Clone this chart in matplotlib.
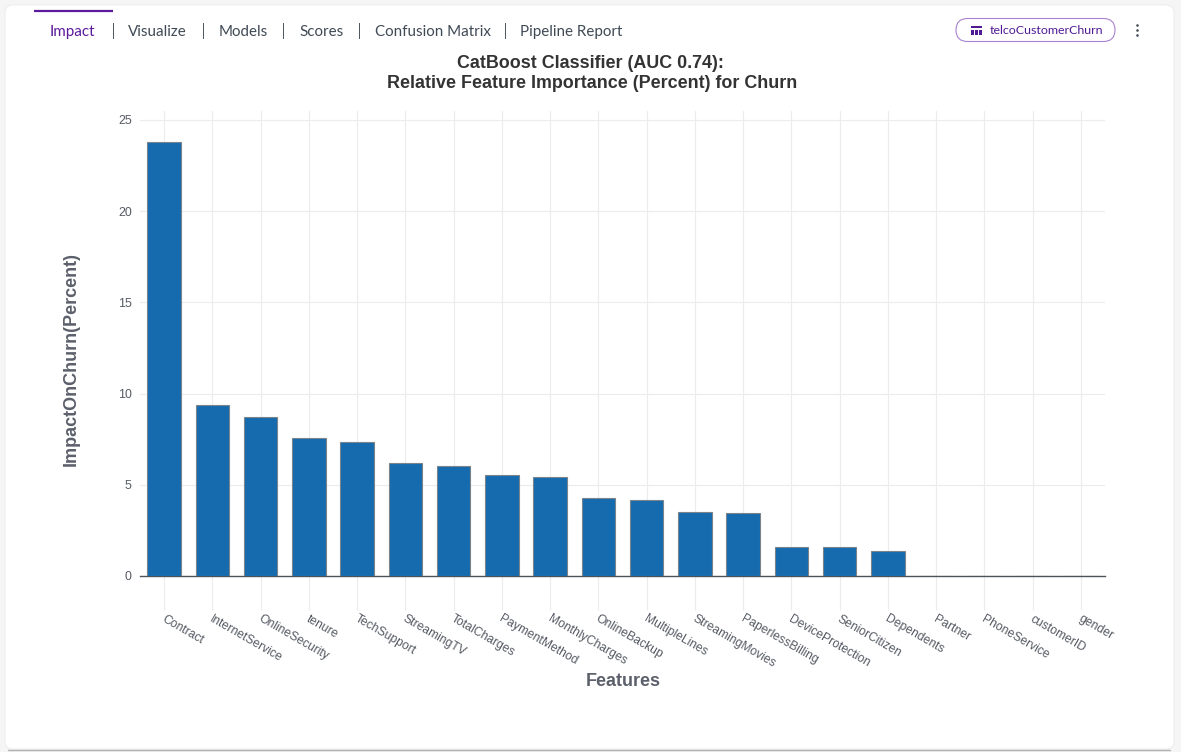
import matplotlib
matplotlib.use('Agg')
import matplotlib.pyplot as plt
import matplotlib.patches as mpatches
from matplotlib.transforms import ScaledTranslation

W, H = 1181, 752

features = ['Contract', 'InternetService', 'OnlineSecurity', 'tenure', 'TechSupport',
            'StreamingTV', 'TotalCharges', 'PaymentMethod', 'MonthlyCharges', 'OnlineBackup',
            'MultipleLines', 'StreamingMovies', 'PaperlessBilling', 'DeviceProtection',
            'SeniorCitizen', 'Dependents', 'Partner', 'PhoneService', 'customerID', 'gender']
impact = [23.8, 9.38, 8.72, 7.57, 7.35, 6.2, 6.03, 5.55, 5.45, 4.28,
          4.17, 3.5, 3.45, 1.6, 1.6, 1.35, 0.01, 0.01, 0.01, 0.01]
yticks = [0, 5, 10, 15, 20, 25]

# tab bar text and the x where each one starts
tabs = ['Impact', 'Visualize', 'Models', 'Scores', 'Confusion Matrix', 'Pipeline Report']
tab_x = [50, 128, 219, 299, 375, 520]
sep_x = [113, 203, 283, 359, 505]

plt.rcParams['font.family'] = ['Liberation Sans', 'DejaVu Sans']

fig = plt.figure(figsize=(W / 100, H / 100), dpi=100, facecolor='#f5f5f5')

# Page chrome, in pixel coordinates
bg = fig.add_axes([0, 0, 1, 1], zorder=0)
bg.set_xlim(0, W)
bg.set_ylim(H, 0)
bg.axis('off')
bg.add_patch(mpatches.FancyBboxPatch((5, 5), 1169, 744, boxstyle='round,pad=0,rounding_size=8',
                                     facecolor='white', edgecolor='#eeeeee', linewidth=0.8))
bg.plot([8, 1170], [749.5, 749.5], color='#b0b0b0', lw=1, solid_capstyle='round')

bg.plot([34, 113], [10.5, 10.5], color='#5c1a9c', lw=1.6, solid_capstyle='butt')
for i, (name, x) in enumerate(zip(tabs, tab_x)):
    bg.text(x, 32, name, family='Lato', fontsize=10.9, va='center', ha='left',
            color='#5c1a9c' if i == 0 else '#3f4a55')
for x in sep_x:
    bg.plot([x, x], [23, 38], color='#4a5560', lw=0.7)

bg.add_patch(mpatches.FancyBboxPatch((956, 18.5), 159, 23, boxstyle='round,pad=0,rounding_size=11.5',
                                     facecolor='white', edgecolor='#a982d0', linewidth=0.8))
bg.text(990, 30.5, 'telcoCustomerChurn', family='Lato', fontsize=8.9, va='center', ha='left', color='#4f1a94')
# small table icon
bg.add_patch(mpatches.Rectangle((971, 26), 10.5, 2.2, facecolor='#4f1a94', edgecolor='none'))
for x in [971, 975, 979]:
    bg.add_patch(mpatches.Rectangle((x, 29.5), 2.6, 5, facecolor='#4f1a94', edgecolor='none'))
bg.scatter([1137, 1137, 1137], [25, 30, 35], s=3.5, color='#444c55', linewidths=0)

# Chart area
ax = fig.add_axes([140 / W, 1 - 576 / H, 965 / W, (576 - 111) / H], zorder=1)
ax.patch.set_alpha(0)
ax.bar(range(len(features)), impact, width=0.69, color='#166bae', edgecolor='#7a848c', linewidth=0.8, zorder=3)
ax.set_xlim(-0.5, 19.5)
ax.set_ylim(0, 25.49)
ax.set_yticks(yticks)
ax.set_xticks(range(len(features)))
labels = ax.set_xticklabels(features, rotation=-30, ha='left', va='top', rotation_mode='anchor')
ax.grid(True, color='#ececec', lw=0.8, zorder=0)
ax.set_axisbelow(True)
for s in ['top', 'right', 'left']:
    ax.spines[s].set_visible(False)
ax.spines['bottom'].set_color('#4d535c')
ax.spines['bottom'].set_linewidth(1)
ax.tick_params(axis='x', length=24.5, width=0.8, color='#ececec', labelcolor='#555a63',
               labelsize=8.7, pad=2)
ax.tick_params(axis='y', length=0, labelcolor='#555a63', labelsize=8.9, pad=6)
# labels start a little right of their tick
for lab in labels:
    lab.set_transform(lab.get_transform() + ScaledTranslation(1.5 / 100, 0, fig.dpi_scale_trans))

fig.text(590.5 / W, 1 - 64 / H, 'CatBoost Classifier (AUC 0.74):', fontsize=12.9, fontweight='bold',
         color='#333333', ha='center', va='center')
fig.text(592.5 / W, 1 - 83 / H, 'Relative Feature Importance (Percent) for Churn', fontsize=12.9,
         fontweight='bold', color='#333333', ha='center', va='center')
fig.text(71 / W, 1 - 359 / H, 'ImpactOnChurn(Percent)', fontsize=13, fontweight='bold', color='#5c606b',
         rotation=90, ha='center', va='center')
fig.text(623 / W, 1 - 681 / H, 'Features', fontsize=13, fontweight='bold', color='#5c606b',
         ha='center', va='center')

fig.savefig('out.png', dpi=100, facecolor=fig.get_facecolor())
